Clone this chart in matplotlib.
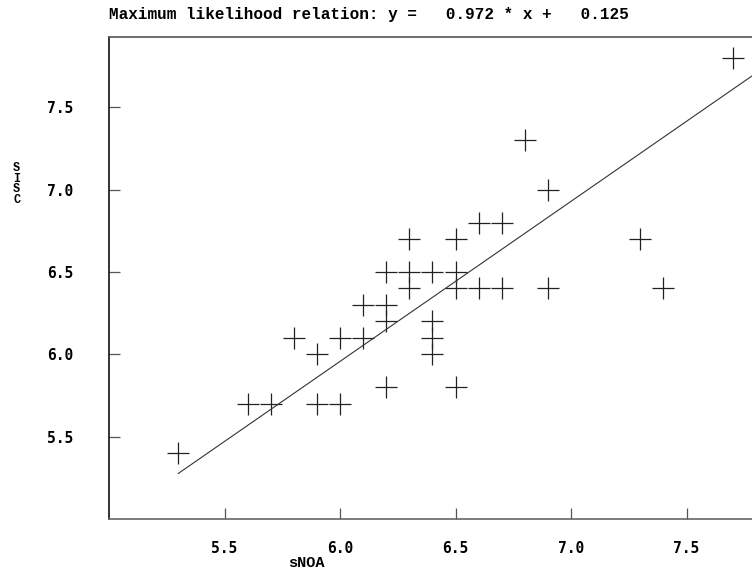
import matplotlib
matplotlib.use('Agg')
import matplotlib.pyplot as plt
import numpy as np

snoa = [5.3, 5.6, 5.7, 5.8, 5.9, 5.9, 6.0, 6.0, 6.1, 6.1, 6.2, 6.2, 6.2, 6.2,
        6.3, 6.3, 6.3, 6.4, 6.4, 6.4, 6.4, 6.5, 6.5, 6.5, 6.5, 6.6, 6.6,
        6.7, 6.7, 6.8, 6.9, 6.9, 7.3, 7.4, 7.7]
sisc = [5.4, 5.7, 5.7, 6.1, 6.0, 5.7, 5.7, 6.1, 6.1, 6.3, 6.3, 6.5, 6.2, 5.8,
        6.7, 6.5, 6.4, 6.5, 6.2, 6.1, 6.0, 6.7, 6.5, 6.4, 5.8, 6.8, 6.4,
        6.8, 6.4, 7.3, 7.0, 6.4, 6.7, 6.4, 7.8]
slope = 0.972
intercept = 0.125
ticks = [5.5, 6.0, 6.5, 7.0, 7.5]

fig = plt.figure(figsize=(7.52, 5.71), dpi=100)
ax = fig.add_axes([0.145, 0.0911, 0.9215, 0.8441])

ax.plot(snoa, sisc, linestyle='none', marker='+', markersize=16,
        markeredgewidth=0.9, color='#222222')
fit_x = np.array([min(snoa), 7.9])
ax.plot(fit_x, slope * fit_x + intercept, color='#333333', linewidth=0.8)

ax.set_xlim(5.0, 8.0)
ax.set_ylim(5.0, 7.927)
ax.set_xticks(ticks)
ax.set_yticks(ticks)
ax.set_xticklabels([f'{t:.1f}' for t in ticks])
ax.set_yticklabels([f'{t:.1f}' for t in ticks])
ax.tick_params(direction='in', length=8, width=0.9, color='#555555',
               labelsize=10.5, pad=16)
ax.tick_params(axis='y', pad=26)
for lab in ax.get_xticklabels() + ax.get_yticklabels():
    lab.set_family('DejaVu Sans Mono')
    lab.set_fontweight('bold')

for side in ['left', 'top', 'bottom']:
    ax.spines[side].set_linewidth(1.2)
ax.spines['left'].set_color('#111111')
ax.spines['top'].set_color('#555555')
ax.spines['bottom'].set_color('#666666')
ax.spines['right'].set_visible(False)

fig.text(0.145, 0.974,
         f'Maximum likelihood relation: y =   {slope:.3f} * x +   {intercept:.3f}',
         family='Liberation Mono', fontweight='bold', fontsize=11.5,
         va='center', ha='left')
fig.text(0.407, 0.014, 'sNOA', family='Liberation Mono', fontweight='bold',
         fontsize=11, ha='center', va='center')
fig.text(0.022, 0.678, 'S\nI\nS\nC', family='Liberation Mono',
         fontweight='bold', fontsize=8.5, ha='center', va='center',
         linespacing=0.85)

fig.savefig('out.png', dpi=100)
